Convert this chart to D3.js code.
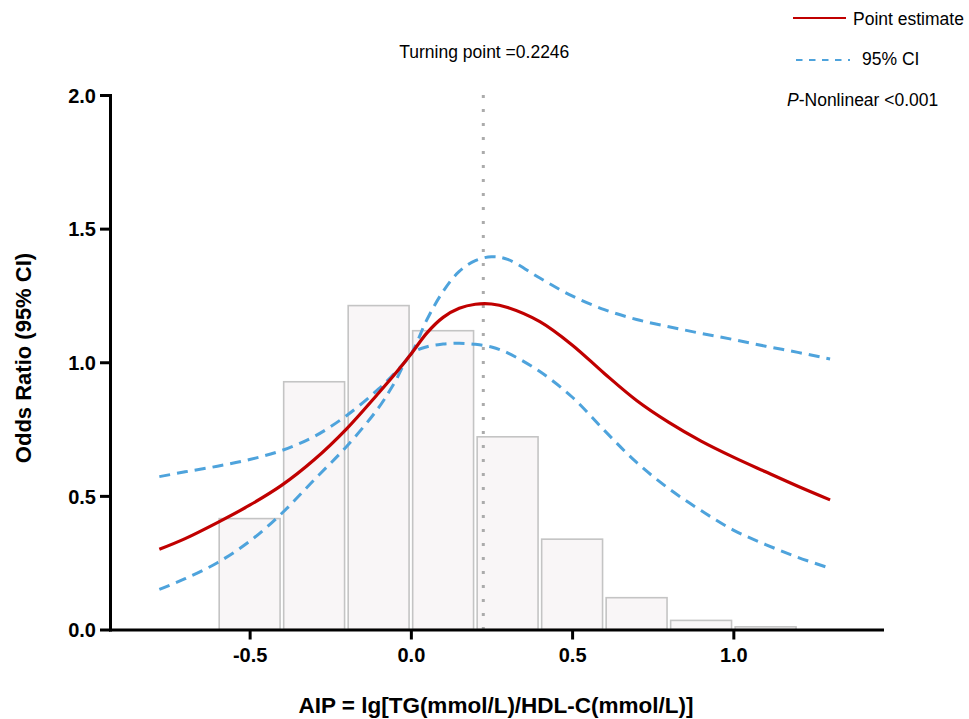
<!DOCTYPE html>
<html>
<head>
<meta charset="utf-8">
<script src="https://cdn.jsdelivr.net/npm/d3@7"></script>
<style>
  html, body { margin: 0; padding: 0; background: #fff; }
  svg { display: block; }
  text { font-family: "Liberation Sans", Arial, sans-serif; }
</style>
</head>
<body>
<svg id="chart" width="969" height="719"></svg>
<script>
// ---------------- DATA ----------------
const histBins = [-0.6, -0.4, -0.2, 0.0, 0.2, 0.4, 0.6, 0.8, 1.0];   // left edges, width 0.2
const histHeights = [0.415, 0.927, 1.212, 1.118, 0.721, 0.338, 0.119, 0.034, 0.010];
const binWidth = 0.2;

const curveX   = [-0.78, -0.7, -0.6, -0.5, -0.4, -0.3, -0.2, -0.1, -0.05, 0.0, 0.05, 0.1, 0.15, 0.2, 0.25, 0.3, 0.4, 0.5, 0.6, 0.7, 0.8, 0.9, 1.0, 1.1, 1.2, 1.3];
const estimate = [0.300, 0.340, 0.400, 0.465, 0.540, 0.635, 0.750, 0.885, 0.955, 1.030, 1.110, 1.168, 1.202, 1.217, 1.218, 1.205, 1.152, 1.065, 0.958, 0.857, 0.775, 0.705, 0.645, 0.590, 0.536, 0.485];
const upperCI  = [0.572, 0.590, 0.611, 0.636, 0.670, 0.722, 0.800, 0.900, 0.960, 1.030, 1.160, 1.265, 1.340, 1.380, 1.395, 1.385, 1.315, 1.248, 1.197, 1.160, 1.133, 1.108, 1.085, 1.060, 1.037, 1.012];
const lowerCI  = [0.150, 0.190, 0.250, 0.330, 0.435, 0.560, 0.684, 0.830, 0.925, 1.030, 1.058, 1.068, 1.071, 1.067, 1.057, 1.035, 0.965, 0.870, 0.745, 0.625, 0.527, 0.445, 0.372, 0.318, 0.270, 0.229];

const xTicks = [-0.5, 0.0, 0.5, 1.0];
const yTicks = [0.0, 0.5, 1.0, 1.5, 2.0];
const xDomain = [-0.933, 1.461];
const yDomain = [0, 2];
const turningPoint = 0.2246;

const titleText = "Turning point =0.2246";
const xLabel = "AIP = lg[TG(mmol/L)/HDL-C(mmol/L)]";
const yLabel = "Odds Ratio (95% CI)";
const legendLabels = ["Point estimate", "95% CI"];
const pLabel = ["P", "-Nonlinear <0.001"];

// ---------------- CHART ----------------
const svg = d3.select("#chart");
const x = d3.scaleLinear().domain(xDomain).range([110, 882]);
const y = d3.scaleLinear().domain(yDomain).range([629.5, 95]);

// histogram
svg.append("g").selectAll("rect")
  .data(histBins.map((b, i) => ({x0: b, x1: b + binWidth, h: histHeights[i]})))
  .join("rect")
  .attr("x", d => x(d.x0) + 1.8)
  .attr("width", d => x(d.x1) - x(d.x0) - 3.6)
  .attr("y", d => y(d.h))
  .attr("height", d => y(0) - y(d.h))
  .attr("fill", "#f9f6f7")
  .attr("stroke", "#c4c4c4")
  .attr("stroke-width", 1.6);

// turning point line
svg.append("line")
  .attr("x1", x(turningPoint)).attr("x2", x(turningPoint))
  .attr("y1", y(2)).attr("y2", y(0))
  .attr("stroke", "#ababab")
  .attr("stroke-width", 3)
  .attr("stroke-dasharray", "3,11");

const pts = arr => curveX.map((v, i) => [v, arr[i]]);
const line = d3.line().x(d => x(d[0])).y(d => y(d[1])).curve(d3.curveCatmullRom.alpha(0.5));

// CI
[upperCI, lowerCI].forEach(arr => {
  svg.append("path")
    .attr("d", line(pts(arr)))
    .attr("fill", "none")
    .attr("stroke", "#4ea3dc")
    .attr("stroke-width", 3)
    .attr("stroke-dasharray", "11,7");
});
// estimate
svg.append("path")
  .attr("d", line(pts(estimate)))
  .attr("fill", "none")
  .attr("stroke", "#c00000")
  .attr("stroke-width", 3.2);

// axes
const fmt = d => d.toFixed(1);
const yAxis = svg.append("g").attr("transform", `translate(110,0)`)
  .call(d3.axisLeft(y).tickValues(yTicks).tickFormat(fmt).tickSize(10).tickSizeOuter(0).tickPadding(4));
const xAxis = svg.append("g").attr("transform", `translate(0,${y(0)})`)
  .call(d3.axisBottom(x).tickValues(xTicks).tickFormat(fmt).tickSize(10).tickSizeOuter(0).tickPadding(8));
[yAxis, xAxis].forEach(g => {
  g.select(".domain").attr("stroke", "#000").attr("stroke-width", 3).attr("stroke-linecap", "square");
  g.selectAll(".tick line").attr("stroke", "#000").attr("stroke-width", 3);
  g.selectAll(".tick text").attr("fill", "#000")
    .style("font-family", '"Liberation Sans", Arial, sans-serif')
    .style("font-size", "20px").style("font-weight", "bold");
});
yAxis.selectAll(".tick text").attr("dy", "0.36em");

// axis titles
svg.append("text")
  .attr("x", 496).attr("y", 713)
  .attr("text-anchor", "middle")
  .style("font-size", "22.5px").style("font-weight", "bold")
  .text(xLabel);
svg.append("text")
  .attr("transform", "translate(31,358) rotate(-90)")
  .attr("text-anchor", "middle")
  .style("font-size", "22px").style("font-weight", "bold")
  .text(yLabel);

// title
svg.append("text")
  .attr("x", x(turningPoint) + 1).attr("y", 58)
  .attr("text-anchor", "middle")
  .style("font-size", "17.5px")
  .text(titleText);

// legend
svg.append("line").attr("x1", 793).attr("x2", 846).attr("y1", 18).attr("y2", 18)
  .attr("stroke", "#c00000").attr("stroke-width", 2);
svg.append("text").attr("x", 853).attr("y", 25).style("font-size", "17.5px").text(legendLabels[0]);
svg.append("line").attr("x1", 796).attr("x2", 850).attr("y1", 60).attr("y2", 60)
  .attr("stroke", "#4ea3dc").attr("stroke-width", 2).attr("stroke-dasharray", "6.5,6.5");
svg.append("text").attr("x", 862).attr("y", 65).style("font-size", "17.5px").text(legendLabels[1]);
const pt = svg.append("text").attr("x", 787).attr("y", 106).style("font-size", "17.5px");
pt.append("tspan").style("font-style", "italic").text(pLabel[0]);
pt.append("tspan").text(pLabel[1]);
</script>
</body>
</html>
